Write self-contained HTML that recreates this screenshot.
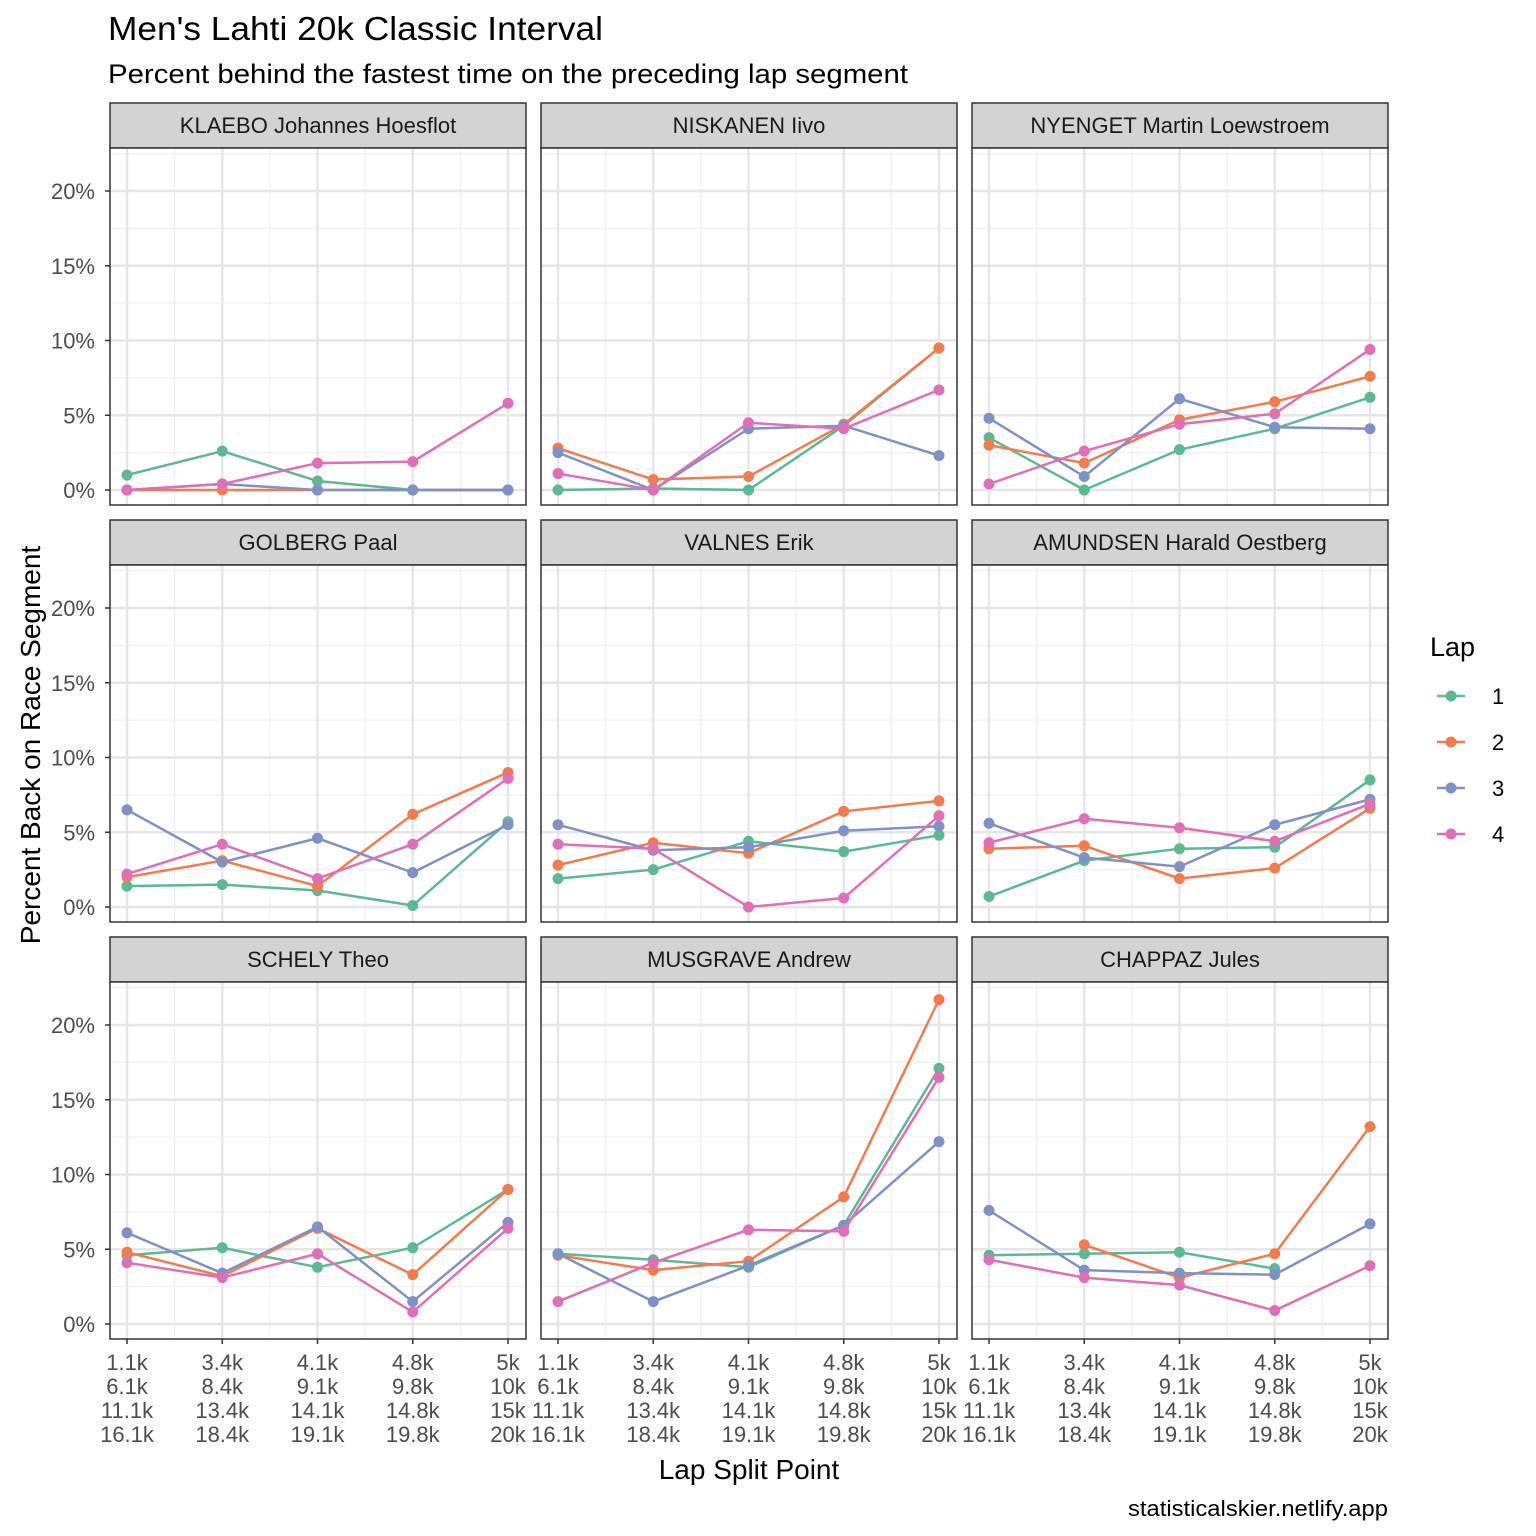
<!DOCTYPE html>
<html><head><meta charset="utf-8"><style>
body{margin:0;background:#fff;}
svg{display:block;font-family:"Liberation Sans",Arial,sans-serif;}
</style></head><body>
<svg id="chart" width="1536" height="1536" viewBox="0 0 1536 1536" xmlns="http://www.w3.org/2000/svg">
<text x="108" y="40" font-size="33" textLength="495" lengthAdjust="spacingAndGlyphs" fill="#000">Men's Lahti 20k Classic Interval</text>
<text x="108" y="83" font-size="27" textLength="800" lengthAdjust="spacingAndGlyphs" fill="#000">Percent behind the fastest time on the preceding lap segment</text>
<text transform="translate(40,745) rotate(-90)" text-anchor="middle" font-size="28" fill="#000">Percent Back on Race Segment</text>
<text x="749" y="1479" text-anchor="middle" font-size="28" fill="#000">Lap Split Point</text>
<text x="1388" y="1516" text-anchor="end" font-size="22" textLength="260" lengthAdjust="spacingAndGlyphs" fill="#000">statisticalskier.netlify.app</text>
<g id="panels"></g>
<g id="legend">
<text x="1430" y="656" font-size="27" fill="#000">Lap</text>
</g>
</svg>
<script>
const categories = ["1.1k\n6.1k\n11.1k\n16.1k","3.4k\n8.4k\n13.4k\n18.4k","4.1k\n9.1k\n14.1k\n19.1k","4.8k\n9.8k\n14.8k\n19.8k","5k\n10k\n15k\n20k"];
const yTicks = [0,5,10,15,20];
const laps = ["1","2","3","4"];
const colors = ["#5CB993","#F47A4F","#7F92C5","#DF6FB9"];
const athletes = ["KLAEBO Johannes Hoesflot","NISKANEN Iivo","NYENGET Martin Loewstroem","GOLBERG Paal","VALNES Erik","AMUNDSEN Harald Oestberg","SCHELY Theo","MUSGRAVE Andrew","CHAPPAZ Jules"];
const lap1 = [[1.0,2.6,0.6,0,0],[0,0.1,0,4.3,9.5],[3.5,0,2.7,4.1,6.2],[1.4,1.5,1.1,0.1,5.7],[1.9,2.5,4.4,3.7,4.8],[0.7,3.1,3.9,4.0,8.5],[4.6,5.1,3.8,5.1,9.0],[4.7,4.3,3.8,6.6,17.1],[4.6,4.7,4.8,3.7,null]];
const lap2 = [[0,0,0,0,0],[2.8,0.7,0.9,4.4,9.5],[3.0,1.8,4.7,5.9,7.6],[2.0,3.1,1.4,6.2,9.0],[2.8,4.3,3.6,6.4,7.1],[3.9,4.1,1.9,2.6,6.6],[4.8,3.2,6.4,3.3,9.0],[4.6,3.6,4.2,8.5,21.7],[null,5.3,3.1,4.7,13.2]];
const lap3 = [[0,0.4,0,0,0],[2.5,0,4.1,4.3,2.3],[4.8,0.9,6.1,4.2,4.1],[6.5,3.0,4.6,2.3,5.5],[5.5,3.8,4.0,5.1,5.4],[5.6,3.3,2.7,5.5,7.2],[6.1,3.4,6.5,1.5,6.8],[4.7,1.5,3.9,6.6,12.2],[7.6,3.6,3.4,3.3,6.7]];
const lap4 = [[0,0.4,1.8,1.9,5.8],[1.1,0,4.5,4.1,6.7],[0.4,2.6,4.4,5.1,9.4],[2.2,4.2,1.9,4.2,8.6],[4.2,3.9,0,0.6,6.1],[4.3,5.9,5.3,4.4,6.9],[4.1,3.1,4.7,0.8,6.4],[1.5,4.1,6.3,6.2,16.5],[4.3,3.1,2.6,0.9,3.9]];
const series = [lap1,lap2,lap3,lap4];

const NS="http://www.w3.org/2000/svg";
const root=document.getElementById('panels');
function mk(tag,attrs,parent){const e=document.createElementNS(NS,tag);for(const k in attrs)e.setAttribute(k,attrs[k]);(parent||root).appendChild(e);return e;}
const colX=[110,541,972], PW=416;
const rowTop=[103,520,937];
function xScale(col,i){return colX[col]+17+i*95.25;}
function yScale(row,v){const zero=rowTop[row]+387;return zero - v*14.95;}

athletes.forEach((name,p)=>{
  const col=p%3,row=Math.floor(p/3);
  const g=mk('g',{});
  
  
  const top=rowTop[row], pt=top+45, pb=top+402, x0=colX[col];
  const strip=mk('rect',{x:x0,y:top,width:PW,height:45,fill:'#D3D3D3',stroke:'#333','stroke-width':1.5},g);
  
  
  const st=mk('text',{x:x0+PW/2,y:top+30,'text-anchor':'middle','font-size':22,fill:'#1A1A1A'},g);
  st.textContent=name;
  
  
  mk('rect',{x:x0,y:pt,width:PW,height:pb-pt,fill:'#fff'},g);
  for(let v=2.5;v<=22.5;v+=5){mk('line',{x1:x0,x2:x0+PW,y1:yScale(row,v),y2:yScale(row,v),stroke:'#F0F0F0','stroke-width':1.2},g);}
  for(let i=0;i<4;i++){const xm=(xScale(col,i)+xScale(col,i+1))/2;mk('line',{x1:xm,x2:xm,y1:pt,y2:pb,stroke:'#F0F0F0','stroke-width':1.2},g);}
  yTicks.forEach(v=>{mk('line',{x1:x0,x2:x0+PW,y1:yScale(row,v),y2:yScale(row,v),stroke:'#E6E6E6','stroke-width':2.4},g);});
  categories.forEach((c,i)=>{mk('line',{x1:xScale(col,i),x2:xScale(col,i),y1:pt,y2:pb,stroke:'#E6E6E6','stroke-width':2.4},g);});
  series.forEach((s,k)=>{
    const vals=s[p];let d='';let pen=false;
    vals.forEach((v,i)=>{if(v===null){pen=false;return;}d+=(pen?'L':'M')+xScale(col,i)+','+yScale(row,v);pen=true;});
    const ln=mk('path',{d:d,fill:'none',stroke:colors[k],'stroke-width':2.5},g);
    
    
    vals.forEach((v,i)=>{if(v===null)return;
      const c=mk('circle',{cx:xScale(col,i),cy:yScale(row,v),r:5.5,fill:colors[k]},g);
      
      
    });
  });
  mk('rect',{x:x0,y:pt,width:PW,height:pb-pt,fill:'none',stroke:'#333','stroke-width':1.5},g);
  if(col===0){
    yTicks.forEach(v=>{
      mk('line',{x1:x0-5,x2:x0,y1:yScale(row,v),y2:yScale(row,v),stroke:'#333','stroke-width':1.5},g);
      const t=mk('text',{x:x0-15,y:yScale(row,v)+8,'text-anchor':'end','font-size':22,fill:'#4D4D4D'},g);
      t.textContent=v+'%';
      
      
    });
  }
  if(row===2){
    categories.forEach((c,i)=>{
      mk('line',{x1:xScale(col,i),x2:xScale(col,i),y1:pb,y2:pb+5,stroke:'#333','stroke-width':1.5},g);
      const t=mk('text',{x:xScale(col,i),'text-anchor':'middle','font-size':22,fill:'#4D4D4D'},g);
      
      
      c.split('\n').forEach((l,j)=>{const ts=mk('tspan',{x:xScale(col,i),y:pb+31+j*24},t);ts.textContent=l;});
    });
  }
});
const lg=document.getElementById('legend');
laps.forEach((l,k)=>{
  const y=696+k*46;
  const e=mk('g',{},lg);
  
  
  mk('line',{x1:1437,x2:1465,y1:y,y2:y,stroke:colors[k],'stroke-width':2.5},e);
  mk('circle',{cx:1451,cy:y,r:5.5,fill:colors[k]},e);
  const t=mk('text',{x:1492,y:y+8,'font-size':22,fill:'#000'},e);
  t.textContent=l;
});
</script>
</body></html>
